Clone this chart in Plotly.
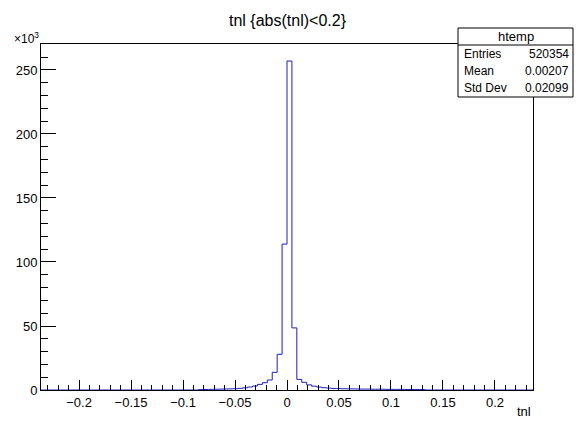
import plotly.graph_objects as go

# ---- data ----
title_text = "tnl {abs(tnl)<0.2}"
x_title = "tnl"
hist_name = "htemp"
stat_labels = ["Entries", "Mean", "Std Dev"]
stat_values = ["520354", "0.00207", "0.02099"]

n_bins = 100
x_low = -0.2366
x_up = 0.2366

# counts for bins k = -50 .. 49 (bin k covers [k*w, (k+1)*w])
left_tail = [0] * 32 + [300, 400, 500, 600, 700, 800, 900, 1000, 1300, 1700,
                        2300, 3100, 4400, 5700, 7800, 13800, 27900, 114000]
right_side = [257000, 48500, 8300, 6000, 4000, 3000, 2300, 1800, 1500, 1200,
              1100, 1000, 900, 900, 800, 700, 700, 600, 600, 600,
              500, 500, 500, 500, 400, 400, 400, 400] + [0] * 22
counts = left_tail + right_side

y_tick_vals = [0, 50000, 100000, 150000, 200000, 250000]
y_tick_text = ["0", "50", "100", "150", "200", "250"]
x_tick_vals = [-0.2, -0.15, -0.1, -0.05, 0, 0.05, 0.1, 0.15, 0.2]
x_tick_text = ["\u22120.2", "\u22120.15", "\u22120.1", "\u22120.05", "0", "0.05", "0.1", "0.15", "0.2"]

# ---- geometry ----
W, H = 576, 421
L, R, T, B = 41, 533, 44, 390
pw, ph = R - L, B - T
FONT = "Liberation Sans, Arial, sans-serif"
LINE_COLOR = "#1e1ec0"

bw = (x_up - x_low) / n_bins
edges = [x_low + i * bw for i in range(n_bins + 1)]
ys = counts + [counts[-1]]

fig = go.Figure()
fig.add_trace(go.Scatter(x=edges, y=ys, mode="lines", line_shape="hv",
                         line=dict(color=LINE_COLOR, width=1), hoverinfo="skip",
                         showlegend=False))

def px(x):
    return (x - L) / pw

def py(y):
    return (B - y) / ph

fig.update_layout(
    width=W, height=H,
    margin=dict(l=L, r=W - R, t=T, b=H - B),
    paper_bgcolor="white", plot_bgcolor="white",
    font=dict(family=FONT, size=13, color="black"),
    showlegend=False,
    xaxis=dict(range=[x_low, x_up], showgrid=False, zeroline=False,
               showline=True, linecolor="black", linewidth=1, mirror=True,
               ticks="inside", ticklen=10, tickcolor="black", tickwidth=1,
               tickvals=x_tick_vals, ticktext=x_tick_text,
               minor=dict(ticks="inside", ticklen=5, dtick=0.01, tick0=0,
                          tickcolor="black", showgrid=False),
               tickfont=dict(size=13)),
    yaxis=dict(range=[0, 270300], showgrid=False, zeroline=False,
               showline=True, linecolor="black", linewidth=1, mirror=True,
               ticks="inside", ticklen=15, tickcolor="black", tickwidth=1,
               tickvals=y_tick_vals, ticktext=y_tick_text,
               minor=dict(ticks="inside", ticklen=7, dtick=10000, tick0=0,
                          tickcolor="black", showgrid=False),
               tickfont=dict(size=13)),
)

ann = []
ann.append(dict(text=title_text, x=px(W / 2), y=py(20), xref="paper", yref="paper",
                xanchor="center", yanchor="middle", showarrow=False,
                font=dict(size=16, family=FONT)))
ann.append(dict(text="\u00d710<sup>3</sup>", x=px(12), y=py(38), xref="paper", yref="paper",
                xanchor="left", yanchor="middle", showarrow=False,
                font=dict(size=12, family=FONT)))
ann.append(dict(text=x_title, x=px(533), y=py(412), xref="paper", yref="paper",
                xanchor="right", yanchor="middle", showarrow=False,
                font=dict(size=13, family=FONT)))

# stats box
bx0, bx1, by0, by1 = 458, 573, 28, 97
hdr = 17
row_h = (by1 - by0 - hdr) / 3
shapes = [
    dict(type="rect", xref="paper", yref="paper", x0=px(bx0), x1=px(bx1),
         y0=py(by1), y1=py(by0), line=dict(color="black", width=1), fillcolor="white", layer="above"),
    dict(type="line", xref="paper", yref="paper", x0=px(bx0), x1=px(bx1),
         y0=py(by0 + hdr), y1=py(by0 + hdr), line=dict(color="black", width=1), layer="above"),
]
ann.append(dict(text=hist_name, x=px((bx0 + bx1) / 2), y=py(by0 + hdr / 2), xref="paper", yref="paper",
                xanchor="center", yanchor="middle", showarrow=False, font=dict(size=13, family=FONT)))
for i, (lab, val) in enumerate(zip(stat_labels, stat_values)):
    yc = by0 + hdr + row_h * (i + 0.5)
    ann.append(dict(text=lab, x=px(bx0 + 4), y=py(yc), xref="paper", yref="paper",
                    xanchor="left", yanchor="middle", showarrow=False, font=dict(size=12, family=FONT)))
    ann.append(dict(text=val, x=px(bx1 - 2), y=py(yc), xref="paper", yref="paper",
                    xanchor="right", yanchor="middle", showarrow=False, font=dict(size=12, family=FONT)))

fig.update_layout(annotations=ann, shapes=shapes)
fig.write_html("out.html", config={"displayModeBar": False},
               post_script="document.body.style.margin='0';document.body.style.overflow='hidden';")
